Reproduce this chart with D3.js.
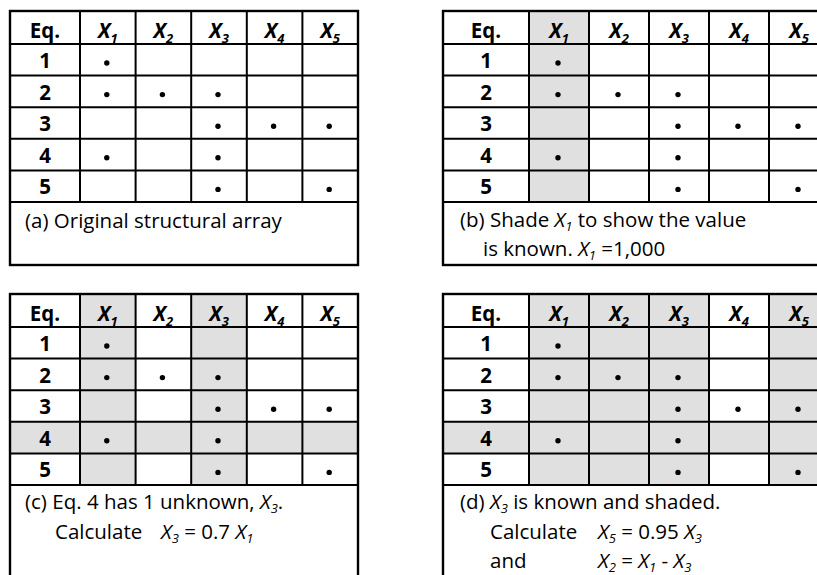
<!DOCTYPE html>
<html><head><meta charset="utf-8">
<script src="https://cdn.jsdelivr.net/npm/d3@7"></script>
<style>body{margin:0;background:#fff;} svg{display:block;} text{font-family:"Open Sans",sans-serif;fill:#000;}</style>
</head><body><svg id="chart" width="817" height="575"></svg>
<script>
// ---- data ----
const equations = ["1","2","3","4","5"];
const variableSubs = ["1","2","3","4","5"];
const incidence = [
  [1,0,0,0,0],
  [1,1,1,0,0],
  [0,0,1,1,1],
  [1,0,1,0,0],
  [0,0,1,0,1]
];
const panelIds = ["a","b","c","d"];
const shadedColumns = {a:[], b:["1"], c:["1","3"], d:["1","2","3","5"]};
const shadedRows = {a:[], b:[], c:["4"], d:["4"]};
const headerLabel = "Eq.";
const captions = {
  a: [[{t:"(a) Original structural array"}]],
  b: [[{t:"(b) Shade "},{v:"1"},{t:" to show the value"}],
      [{t:"is known. "},{v:"1"},{t:" =1,000"}]],
  c: [[{t:"(c) Eq. 4 has 1 unknown, "},{v:"3"},{t:"."}],
      [{t:"Calculate"},{tab:true},{v:"3"},{t:" = 0.7 "},{v:"1"}]],
  d: [[{t:"(d) "},{v:"3"},{t:" is known and shaded."}],
      [{t:"Calculate"},{tab:true},{v:"5"},{t:" = 0.95 "},{v:"3"}],
      [{t:"and"},{tab:true},{v:"2"},{t:" = "},{v:"1"},{t:" - "},{v:"3"}]]
};

// ---- layout ----
const layout = {
  a:{x:10, y:11, eqW:70, colW:55.6, boxH:254, lines:[[15,217]], tab:151},
  b:{x:443,y:11, eqW:86, colW:60,   boxH:254, lines:[[17,216],[40,245]], tab:155},
  c:{x:10, y:294,eqW:70, colW:55.6, boxH:330, lines:[[15,215],[45,245]], tab:151},
  d:{x:443,y:294,eqW:86, colW:60,   boxH:330, lines:[[17,215],[47,245],[47,274]], tab:155}
};
const headerH = 33, rowH = 31.6;
const shade = "#e0e0e0";
const fs = 20.5, capFs = 20.5, subFs = 13, subDy = 3.5;

const svg = d3.select("#chart");

function richText(sel, segs, tabX) {
  let shift = 0, pendingX = null;
  segs.forEach(s => {
    if (s.tab) { pendingX = tabX; return; }
    const put = (txt, opts) => {
      const ts = sel.append("tspan").text(txt);
      if (pendingX != null) { ts.attr("x", pendingX); pendingX = null; }
      const target = opts.sub ? subDy : 0;
      if (target !== shift) { ts.attr("dy", target - shift); shift = target; }
      if (opts.italic) ts.attr("font-style", "italic");
      if (opts.sub) ts.attr("font-size", subFs);
      return ts;
    };
    if (s.t != null) put(s.t, {});
    if (s.v != null) { put("X", {italic:true}); put(s.v, {italic:true, sub:true}); }
  });
}

panelIds.forEach(id => {
  const L = layout[id];
  const g = svg.append("g").attr("transform", `translate(${L.x},${L.y})`);
  const x = d3.scaleBand().domain(variableSubs).range([L.eqW, L.eqW + L.colW*variableSubs.length]);
  const y = d3.scaleBand().domain(equations).range([headerH, headerH + rowH*equations.length]);
  const W = L.eqW + L.colW*variableSubs.length;
  const gridB = headerH + rowH*equations.length;

  g.selectAll("rect.sc").data(shadedColumns[id]).join("rect")
    .attr("x", d => x(d)).attr("y", 0).attr("width", x.bandwidth()).attr("height", gridB)
    .attr("fill", shade);
  g.selectAll("rect.sr").data(shadedRows[id]).join("rect")
    .attr("x", 0).attr("y", d => y(d)).attr("width", W).attr("height", y.bandwidth())
    .attr("fill", shade);

  const vx = [L.eqW, ...variableSubs.slice(1).map(v => x(v))];
  g.selectAll("line.v").data(vx).join("line")
    .attr("x1", d => d).attr("x2", d => d).attr("y1", 0).attr("y2", gridB)
    .attr("stroke", "#000").attr("stroke-width", 2);
  const hy = [headerH, ...equations.slice(1).map(e => y(e)), gridB];
  g.selectAll("line.h").data(hy).join("line")
    .attr("x1", 0).attr("x2", W).attr("y1", d => d).attr("y2", d => d)
    .attr("stroke", "#000").attr("stroke-width", 2);
  g.append("rect").attr("x", 0).attr("y", 0).attr("width", W).attr("height", L.boxH)
    .attr("fill", "none").attr("stroke", "#000").attr("stroke-width", 2.4);

  g.append("text").attr("x", L.eqW/2).attr("y", 27).attr("text-anchor", "middle")
    .attr("font-size", fs).attr("font-weight", "bold").text(headerLabel);
  variableSubs.forEach(v => {
    const t = g.append("text").attr("x", x(v) + x.bandwidth()/2).attr("y", 27)
      .attr("text-anchor", "middle").attr("font-size", fs).attr("font-weight", "bold");
    t.append("tspan").attr("font-style", "italic").text("X");
    t.append("tspan").attr("font-style", "italic").attr("font-size", subFs).attr("dy", 4.5).text(v);
  });
  g.selectAll("text.eq").data(equations).join("text")
    .attr("x", L.eqW/2).attr("y", d => y(d) + 24).attr("text-anchor", "middle")
    .attr("font-size", fs).attr("font-weight", "bold").text(d => d);
  const dots = [];
  incidence.forEach((row, i) => row.forEach((c, j) => { if (c) dots.push({e:equations[i], v:variableSubs[j]}); }));
  g.selectAll("circle.dot").data(dots).join("circle")
    .attr("cx", d => x(d.v) + x.bandwidth()/2 - 1).attr("cy", d => y(d.e) + 19)
    .attr("r", 2.7).attr("fill", "#000");

  captions[id].forEach((segs, i) => {
    const [lx, ly] = L.lines[i];
    const t = g.append("text").attr("x", lx).attr("y", ly).attr("font-size", capFs);
    richText(t, segs, L.tab);
  });
});
</script></body></html>
